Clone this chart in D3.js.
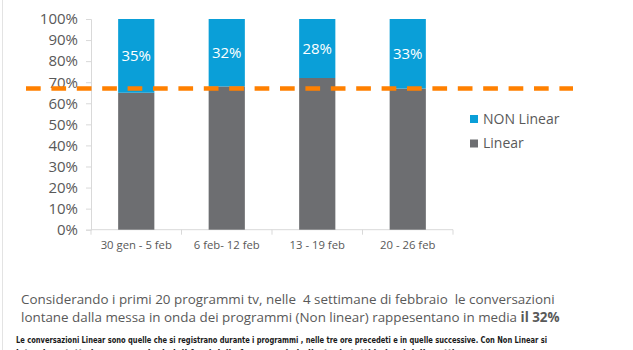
<!DOCTYPE html>
<html>
<head>
    <meta charset="utf-8">
    <title>Linear vs Non Linear</title>
    <style>
        body { margin: 0; background: #fff; }
        svg { display: block; }
    </style>
</head>
<body>
    <script src="https://d3js.org/d3.v7.min.js"></script>
    <script>
    // data
    var weeks = ["30 gen - 5 feb", "6 feb- 12 feb", "13 - 19 feb", "20 - 26 feb"];
    var linear = [0.65, 0.68, 0.72, 0.67];
    var nonLinear = [0.35, 0.32, 0.28, 0.33];
    var seriesNames = ["NON Linear", "Linear"];
    var yTicks = [0, 0.1, 0.2, 0.3, 0.4, 0.5, 0.6, 0.7, 0.8, 0.9, 1];
    var avgLine = 0.67;

    const W = 633, H = 350;
    const blue = "#0a9fd8", grey = "#6d6e71", orange = "#ff8000", textCol = "#595959";
    const font = "'Open Sans', 'Noto Sans', sans-serif";
    const narrow = "'Liberation Sans Narrow', 'DejaVu Sans Condensed', sans-serif";

    const svg = d3.select("body").append("svg")
        .attr("width", W)
        .attr("height", H)
        .style("font-family", font);

    // faint frame line on the left
    svg.append("line")
        .attr("x1", 2.5).attr("x2", 2.5).attr("y1", 0).attr("y2", H)
        .attr("stroke", "#e3e3e3");

    var x = d3.scaleBand()
        .domain(weeks)
        .range([91, 453])
        .paddingInner(0.6)
        .paddingOuter(0.3);

    var y = d3.scaleLinear()
        .domain([0, 1])
        .range([229.7, 19]);

    // y axis
    var yAxis = svg.append("g")
        .attr("transform", "translate(91,0)")
        .call(d3.axisLeft(y).tickValues(yTicks).tickSize(5).tickPadding(8)
            .tickFormat(d3.format(".0%")));
    yAxis.select(".domain").attr("stroke", "#d9d9d9");
    yAxis.selectAll(".tick line").attr("stroke", "#d9d9d9");
    yAxis.selectAll("text")
        .attr("fill", textCol)
        .style("font-size", "15px")
        .style("font-family", font);

    // x axis line + boundary ticks
    svg.append("line")
        .attr("x1", 91).attr("x2", 453)
        .attr("y1", y(0)).attr("y2", y(0))
        .attr("stroke", "#d9d9d9");
    var bounds = weeks.map(function(d) { return x(d) - x.step() * x.paddingInner() / 2; });
    bounds.push(453);
    bounds[0] = 91;
    svg.selectAll(".xtick")
        .data(bounds)
        .enter().append("line")
        .attr("x1", function(d) { return d; })
        .attr("x2", function(d) { return d; })
        .attr("y1", y(0)).attr("y2", y(0) + 5)
        .attr("stroke", "#d9d9d9");

    svg.selectAll(".xlabel")
        .data(weeks)
        .enter().append("text")
        .attr("x", function(d) { return x(d) + x.bandwidth() / 2; })
        .attr("y", 249)
        .attr("text-anchor", "middle")
        .attr("fill", textCol)
        .style("font-size", "11.3px")
        .text(function(d) { return d; });

    // stacked bars
    var bars = svg.selectAll(".bar")
        .data(weeks)
        .enter().append("g");

    bars.append("rect")
        .attr("x", function(d) { return x(d); })
        .attr("width", x.bandwidth())
        .attr("y", function(d, i) { return y(linear[i]); })
        .attr("height", function(d, i) { return y(0) - y(linear[i]); })
        .attr("fill", grey);

    bars.append("rect")
        .attr("x", function(d) { return x(d); })
        .attr("width", x.bandwidth())
        .attr("y", function(d, i) { return y(linear[i] + nonLinear[i]); })
        .attr("height", function(d, i) { return y(linear[i]) - y(linear[i] + nonLinear[i]); })
        .attr("fill", blue);

    bars.append("text")
        .attr("x", function(d) { return x(d) + x.bandwidth() / 2; })
        .attr("y", function(d, i) { return (y(linear[i]) + y(linear[i] + nonLinear[i])) / 2; })
        .attr("dy", "0.35em")
        .attr("text-anchor", "middle")
        .attr("fill", "#fff")
        .style("font-size", "15px")
        .text(function(d, i) { return d3.format(".0%")(nonLinear[i]); });

    // average dashed line
    svg.append("line")
        .attr("x1", 26).attr("x2", 573)
        .attr("y1", y(avgLine)).attr("y2", y(avgLine))
        .attr("stroke", orange)
        .attr("stroke-width", 4.5)
        .attr("stroke-dasharray", "14.7,10.7");

    // legend
    var legend = svg.selectAll(".legend")
        .data(seriesNames)
        .enter().append("g")
        .attr("transform", function(d, i) { return "translate(470," + (119 + i * 24.5) + ")"; });
    legend.append("rect")
        .attr("x", 0).attr("y", -4)
        .attr("width", 8).attr("height", 8)
        .attr("fill", function(d, i) { return i === 0 ? blue : grey; });
    legend.append("text")
        .attr("x", 13).attr("dy", "0.35em")
        .attr("fill", textCol)
        .style("font-size", "14px")
        .text(function(d) { return d; });

    // commentary, two lines
    svg.append("text")
        .attr("x", 21).attr("y", 304)
        .attr("fill", textCol)
        .style("font-size", "13.4px")
        .style("white-space", "pre")
        .text("Considerando i primi 20 programmi tv, nelle  4 settimane di febbraio  le conversazioni");
    var l2 = svg.append("text")
        .attr("x", 21).attr("y", 322)
        .attr("fill", textCol)
        .style("font-size", "13.4px");
    l2.append("tspan").text("lontane dalla messa in onda dei programmi (Non linear) rappesentano in media ");
    l2.append("tspan").style("font-weight", "bold").text("il 32%");

    // footnote (second line is cut by the bottom edge, as in the picture)
    svg.append("text")
        .attr("x", 16).attr("y", 343)
        .attr("fill", "#1a1a1a")
        .style("font-family", narrow)
        .style("font-size", "9px")
        .style("font-weight", "bold")
        .attr("textLength", 531)
        .attr("lengthAdjust", "spacingAndGlyphs")
        .text("Le conversazioni Linear sono quelle che si registrano durante i programmi , nelle tre ore precedeti e in quelle successive. Con Non Linear si");
    svg.append("text")
        .attr("x", 16).attr("y", 356)
        .attr("fill", "#1a1a1a")
        .style("font-family", narrow)
        .style("font-size", "9px")
        .style("font-weight", "bold")
        .text("intendono tutte le conversazioni al di fuori delle fasce orarie indicate, in tutti i giorni della settimana");
    </script>
</body>
</html>
